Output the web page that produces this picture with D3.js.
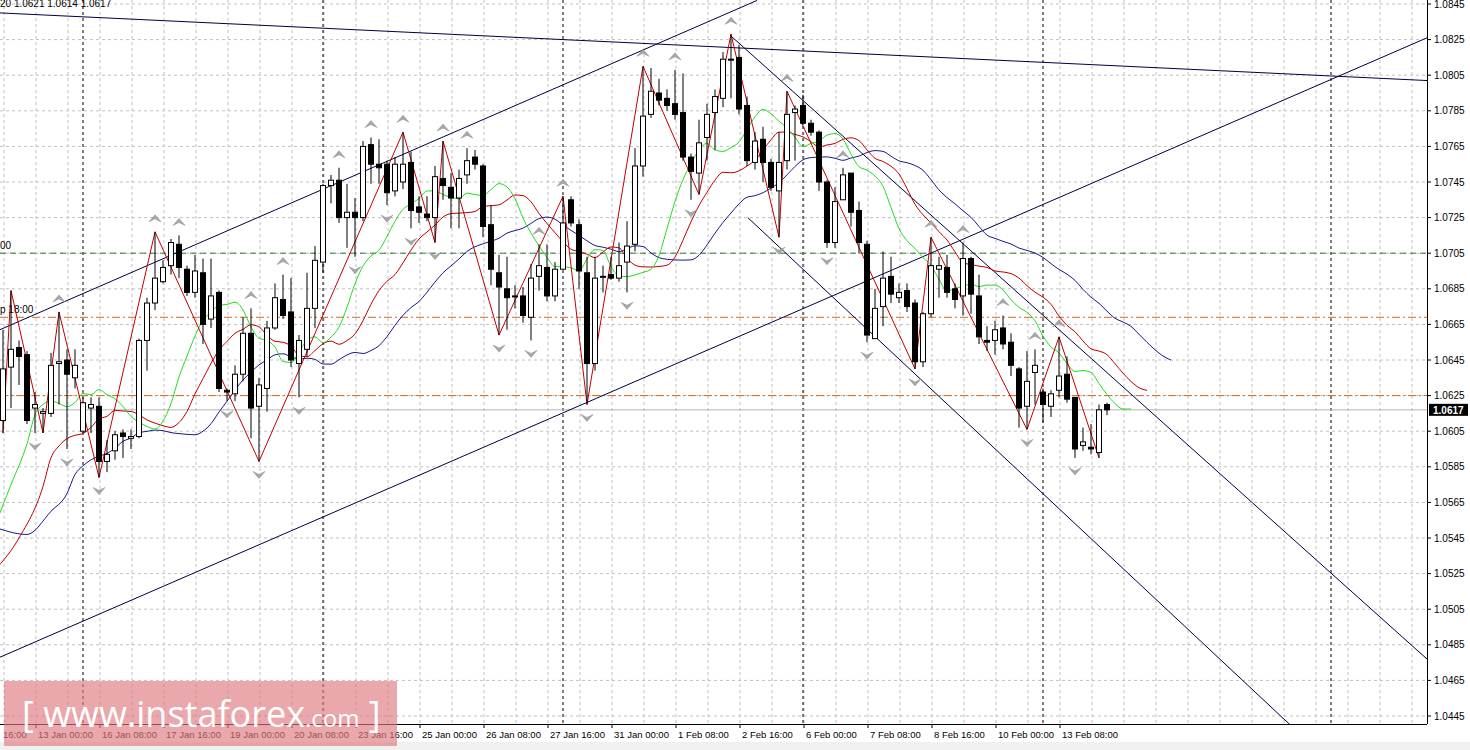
<!DOCTYPE html>
<html><head><meta charset="utf-8">
<script src="https://cdn.jsdelivr.net/npm/d3@7"></script>
<style>body{margin:0;background:#fff}svg{display:block}</style>
</head><body>
<script>
// ---- data (H4 EURUSD-like candles) ----
const opens  = [1.0611,1.0641,1.0652,1.0648,1.0618,1.0615,1.0615,1.0643,1.0645,1.0635,1.0605,1.0618,1.0619,1.0588,1.0594,1.0604,1.0601,1.0602,1.0656,1.0677,1.0689,1.0698,1.0710,1.0696,1.0683,1.0694,1.0668,1.0683,1.0628,1.0626,
 1.0637,1.0660,1.0619,1.0629,1.0663,1.0679,1.0672,1.0643,1.0651,1.0674,1.0700,1.0743,1.0746,1.0725,1.0728,1.0725,1.0766,1.0755,1.0755,1.0740,1.0745,1.0756,1.0731,1.0727,1.0725,1.0747,1.0742,1.0736,1.0749,
 1.0759,1.0754,1.0721,1.0694,1.0685,1.0681,1.0681,1.0669,1.0692,1.0697,1.0681,1.0696,1.0735,1.0721,1.0694,1.0643,1.0692,1.0693,1.0691,1.0700,1.0710,1.0754,1.0783,1.0795,1.0792,1.0789,1.0784,1.0759,1.0750,
 1.0770,1.0784,1.0792,1.0814,1.0815,1.0788,1.0756,1.0769,1.0756,1.0740,1.0757,1.0784,1.0788,1.0778,1.0773,1.0745,1.0711,1.0735,1.0750,1.0729,1.0710,1.0657,1.0675,1.0692,1.0680,1.0684,1.0677,1.0644,
 1.0671,1.0696,1.0697,1.0685,1.0681,1.0702,1.0681,1.0656,1.0656,1.0663,1.0655,1.0640,1.0619,1.0638,1.0627,1.0619,1.0628,1.0637,1.0624,1.0597,1.0596,1.0593,1.0620];
const highs  = [1.0662,1.0684,1.0656,1.0650,1.0627,1.0618,1.0649,1.0672,1.0651,1.0651,1.0624,1.0624,1.0624,1.0600,1.0605,1.0606,1.0606,1.0657,1.0680,1.0717,1.0701,1.0713,1.0715,1.0698,1.0704,1.0702,1.0702,1.0684,1.0629,1.0642,
 1.0669,1.0674,1.0635,1.0667,1.0688,1.0693,1.0691,1.0659,1.0694,1.0709,1.0744,1.0749,1.0753,1.0744,1.0736,1.0768,1.0770,1.0769,1.0757,1.0759,1.0773,1.0762,1.0737,1.0737,1.0754,1.0768,1.0750,1.0752,1.0764,
 1.0763,1.0755,1.0732,1.0704,1.0703,1.0687,1.0686,1.0699,1.0710,1.0710,1.0700,1.0737,1.0737,1.0724,1.0703,1.0703,1.0698,1.0703,1.0711,1.0723,1.0764,1.0810,1.0809,1.0803,1.0797,1.0808,1.0806,1.0761,1.0780,
 1.0789,1.0797,1.0818,1.0828,1.0822,1.0793,1.0773,1.0776,1.0758,1.0773,1.0796,1.0788,1.0794,1.0780,1.0774,1.0746,1.0742,1.0753,1.0750,1.0734,1.0712,1.0685,1.0706,1.0703,1.0688,1.0688,1.0679,1.0672,
 1.0714,1.0703,1.0704,1.0688,1.0711,1.0703,1.0693,1.0664,1.0667,1.0670,1.0660,1.0641,1.0650,1.0651,1.0629,1.0628,1.0658,1.0647,1.0624,1.0607,1.0609,1.0620,1.0621];
const lows   = [1.0604,1.0618,1.0631,1.0609,1.0604,1.0604,1.0613,1.0620,1.0595,1.0629,1.0604,1.0604,1.0579,1.0582,1.0589,1.0590,1.0595,1.0601,1.0639,1.0673,1.0688,1.0693,1.0691,1.0681,1.0680,1.0654,1.0663,1.0627,1.0622,1.0622,
 1.0633,1.0601,1.0588,1.0616,1.0662,1.0668,1.0641,1.0624,1.0647,1.0663,1.0694,1.0733,1.0722,1.0708,1.0703,1.0723,1.0744,1.0744,1.0732,1.0737,1.0741,1.0719,1.0722,1.0723,1.0711,1.0735,1.0719,1.0719,1.0744,
 1.0752,1.0714,1.0687,1.0659,1.0662,1.0674,1.0666,1.0656,1.0684,1.0678,1.0678,1.0718,1.0720,1.0685,1.0620,1.0639,1.0683,1.0690,1.0689,1.0683,1.0706,1.0748,1.0781,1.0788,1.0785,1.0780,1.0757,1.0735,1.0738,
 1.0757,1.0763,1.0787,1.0792,1.0783,1.0754,1.0752,1.0745,1.0740,1.0714,1.0752,1.0757,1.0777,1.0771,1.0740,1.0708,1.0708,1.0735,1.0720,1.0705,1.0655,1.0657,1.0664,1.0677,1.0677,1.0672,1.0640,1.0641,
 1.0669,1.0680,1.0680,1.0674,1.0670,1.0671,1.0654,1.0650,1.0648,1.0651,1.0636,1.0607,1.0606,1.0620,1.0610,1.0613,1.0624,1.0621,1.0590,1.0594,1.0592,1.0590,1.0614];
const closes = [1.0640,1.0651,1.0647,1.0611,1.0620,1.0616,1.0642,1.0644,1.0637,1.0642,1.0621,1.0620,1.0588,1.0592,1.0603,1.0602,1.0602,1.0656,1.0677,1.0691,1.0697,1.0711,1.0697,1.0683,1.0695,1.0665,1.0681,1.0629,1.0627,1.0637,
 1.0660,1.0618,1.0631,1.0663,1.0680,1.0670,1.0645,1.0656,1.0674,1.0701,1.0743,1.0746,1.0725,1.0728,1.0725,1.0765,1.0755,1.0753,1.0739,1.0755,1.0755,1.0729,1.0728,1.0725,1.0748,1.0743,1.0736,1.0747,1.0757,
 1.0755,1.0720,1.0696,1.0686,1.0680,1.0681,1.0670,1.0691,1.0698,1.0681,1.0696,1.0722,1.0722,1.0695,1.0643,1.0691,1.0692,1.0691,1.0698,1.0709,1.0754,1.0782,1.0796,1.0791,1.0788,1.0783,1.0759,1.0751,1.0767,
 1.0783,1.0793,1.0814,1.0814,1.0786,1.0757,1.0768,1.0756,1.0742,1.0756,1.0783,1.0786,1.0778,1.0773,1.0745,1.0711,1.0734,1.0749,1.0728,1.0711,1.0659,1.0674,1.0691,1.0682,1.0683,1.0675,1.0644,1.0671,
 1.0698,1.0698,1.0683,1.0679,1.0702,1.0682,1.0658,1.0655,1.0662,1.0654,1.0642,1.0618,1.0633,1.0642,1.0620,1.0626,1.0636,1.0623,1.0595,1.0599,1.0595,1.0617,1.0617];

// zigzag pivots: bar index and whether it is a high
const zigIdx  = [0,1,5,7,12,19,32,50,54,55,62,70,73,80,87,91,97,98,114,116,128,132,137];
const zigHigh = [0,1,0,1,0,1,0,1,0,1,0,1,0,1,0,1,0,1,0,1,0,1,0];

// alligator: values left of the visible window (bar index, value)
const jawLead   = [[-1,1.0551],[3,1.0547],[6,1.0560],[8,1.0570]];
const teethLead = [[-1,1.0527],[2,1.0545],[5,1.0574]];
const lipsLead  = [[-1,1.0552],[1,1.0575],[3,1.0598]];

const priceTicks = d3.range(0,21).map(k => +(1.0445 + k*0.002).toFixed(4));
const timeLabels = ["16:00","13 Jan 00:00","16 Jan 08:00","17 Jan 16:00","19 Jan 00:00","20 Jan 08:00","23 Jan 16:00","25 Jan 00:00","26 Jan 08:00","27 Jan 16:00","31 Jan 00:00","1 Feb 08:00","2 Feb 16:00","6 Feb 00:00","7 Feb 08:00","8 Feb 16:00","10 Feb 00:00","13 Feb 08:00"];
const separatorBars = [10,40,70,100,130,166];
const hLevels = [{p:1.0705,c:"#2e7d32",dash:"6,4",label:"00"},{p:1.0669,c:"#d2691e",dash:"8,3,2,3",label:"p 18:00"},{p:1.0625,c:"#d2691e",dash:"8,3,2,3",label:""}];
const bidPrice = 1.0617;
const trendLines = [[[-0.4,1.0662],[94.25,1.0847]],[[-0.4,1.0478],[178,1.0826]],[[-0.4,1.0840],[178,1.0802]],[[91,1.0827],[178,1.0477]],[[93.1,1.0725],[160.9,1.0440]]];

// ---- drawing ----
const W=1470,H=750,PR=1427,PB=724;
const svg=d3.select("body").append("svg").attr("width",W).attr("height",H);
const x=d3.scaleLinear().domain([0,1]).range([3,11]);
const y=d3.scaleLinear().domain([1.0445,1.0845]).range([716,4]);
const font="Liberation Sans, Arial, sans-serif";

svg.append("defs").append("clipPath").attr("id","pc").append("rect").attr("x",0).attr("y",0).attr("width",PR).attr("height",PB);
svg.append("rect").attr("x",0).attr("y",742).attr("width",W).attr("height",8).attr("fill","#f0f0f0");
const g=svg.append("g").attr("clip-path","url(#pc)");

d3.range(0,46).forEach(k=>{const gx=4+32*k; if(gx<PR) g.append("line").attr("x1",gx).attr("x2",gx).attr("y1",0).attr("y2",PB).attr("stroke","#c0c0c0").attr("stroke-dasharray","3,3");});
priceTicks.forEach(p=>g.append("line").attr("x1",0).attr("x2",PR).attr("y1",y(p)).attr("y2",y(p)).attr("stroke","#c0c0c0").attr("stroke-dasharray","3,3"));
separatorBars.forEach(b=>g.append("line").attr("x1",x(b)).attr("x2",x(b)).attr("y1",0).attr("y2",PB).attr("stroke","#000").attr("stroke-dasharray","3,3"));

hLevels.forEach(h=>{g.append("line").attr("x1",0).attr("x2",PR).attr("y1",y(h.p)).attr("y2",y(h.p)).attr("stroke",h.c).attr("stroke-dasharray",h.dash);
 if(h.label) g.append("text").attr("x",0).attr("y",y(h.p)-4).text(h.label).attr("font-family",font).attr("font-size",10).attr("fill","#000");});
g.append("line").attr("x1",0).attr("x2",PR).attr("y1",y(bidPrice)).attr("y2",y(bidPrice)).attr("stroke","#b4b4b4");

trendLines.forEach(t=>g.append("line").attr("x1",x(t[0][0])).attr("y1",y(t[0][1])).attr("x2",x(t[1][0])).attr("y2",y(t[1][1])).attr("stroke","#000040").attr("stroke-width",1));

// alligator (smoothed moving averages of median price, shifted forward)
const med=highs.map((h,i)=>(h+lows[i])/2);
function smma(period,shift,lead){const pts=lead.slice();let s=lead[lead.length-1][1];med.forEach((m,i)=>{s=(s*(period-1)+m)/period;if(i+shift>lead[lead.length-1][0])pts.push([i+shift,s]);});return pts;}
const line=d3.line().x(d=>x(d[0])).y(d=>y(d[1])).curve(d3.curveMonotoneX);
[[13,8,jawLead,"#1a1a8c"],[8,5,teethLead,"#c00000"],[5,3,lipsLead,"#22dd22"]].forEach(a=>g.append("path").attr("d",line(smma(a[0],a[1],a[2]))).attr("fill","none").attr("stroke",a[3]).attr("stroke-width",1));

const zz=zigIdx.map((b,k)=>[b,zigHigh[k]?highs[b]:lows[b]]);
g.append("path").attr("d",d3.line().x(d=>x(d[0])).y(d=>y(d[1]))(zz)).attr("fill","none").attr("stroke","#c00000").attr("stroke-width",1);

const n=opens.length;
for(let i=0;i<n;i++){const cx=x(i),up=closes[i]>=opens[i];
 g.append("line").attr("x1",cx).attr("x2",cx).attr("y1",y(highs[i])).attr("y2",y(lows[i])).attr("stroke","#000");
 const t=y(Math.max(opens[i],closes[i])),b=y(Math.min(opens[i],closes[i]));
 g.append("rect").attr("x",cx-2.5).attr("y",t).attr("width",5).attr("height",Math.max(1,b-t)).attr("fill",up?"#fff":"#000").attr("stroke","#000").attr("stroke-width",1);}

const arrow=(cx,cy,upw)=>{const s=upw?-1:1;return `M${cx},${cy} L${cx+6},${cy-s*7} L${cx},${cy-s*4} L${cx-6},${cy-s*7} Z`;};
for(let i=2;i<n-2;i++){
 if(highs[i]>highs[i-1]&&highs[i]>highs[i-2]&&highs[i]>=highs[i+1]&&highs[i]>=highs[i+2]) g.append("path").attr("d",arrow(x(i),y(highs[i])-17,true)).attr("fill","#a8a8a8").attr("stroke","#888").attr("stroke-width",0.5);
 if(lows[i]<lows[i-1]&&lows[i]<lows[i-2]&&lows[i]<=lows[i+1]&&lows[i]<=lows[i+2]) g.append("path").attr("d",arrow(x(i),y(lows[i])+17,false)).attr("fill","#a8a8a8").attr("stroke","#888").attr("stroke-width",0.5);}

svg.append("line").attr("x1",PR+0.5).attr("x2",PR+0.5).attr("y1",0).attr("y2",PB).attr("stroke","#000");
svg.append("line").attr("x1",0).attr("x2",PR).attr("y1",PB+0.5).attr("y2",PB+0.5).attr("stroke","#000");
priceTicks.forEach(p=>{svg.append("line").attr("x1",PR).attr("x2",PR+4).attr("y1",y(p)).attr("y2",y(p)).attr("stroke","#000");
 svg.append("text").attr("x",PR+7).attr("y",y(p)+3.5).text(p.toFixed(4)).attr("font-family",font).attr("font-size",10).attr("fill","#000");});
svg.append("rect").attr("x",PR+2).attr("y",y(bidPrice)-6).attr("width",39).attr("height",12).attr("fill","#000");
svg.append("text").attr("x",PR+6).attr("y",y(bidPrice)+4).text(bidPrice.toFixed(4)).attr("font-family",font).attr("font-size",10).attr("font-weight","bold").attr("fill","#fff");
timeLabels.forEach((t,k)=>{const lx=k===0?1:-28+64*k;
 if(k>0) svg.append("line").attr("x1",lx).attr("x2",lx).attr("y1",PB).attr("y2",PB+4).attr("stroke","#000");
 svg.append("text").attr("x",lx+2).attr("y",738).text(t).attr("font-family",font).attr("font-size",9.5).attr("fill","#000");});
svg.append("text").attr("x",0).attr("y",7).text("20 1.0621 1.0614 1.0617").attr("font-family",font).attr("font-size",10).attr("fill","#000");

svg.append("rect").attr("x",4).attr("y",681).attr("width",393).attr("height",65).attr("fill","#e07a80").attr("opacity",0.65);
const wt=svg.append("text").attr("x",22).attr("y",727).attr("font-family","Open Sans, sans-serif").attr("fill","#fff").attr("font-size",36);
wt.append("tspan").text("[ www.instaforex");wt.append("tspan").attr("font-size",24).text(".com");wt.append("tspan").text(" ]");
</script>
</body></html>
